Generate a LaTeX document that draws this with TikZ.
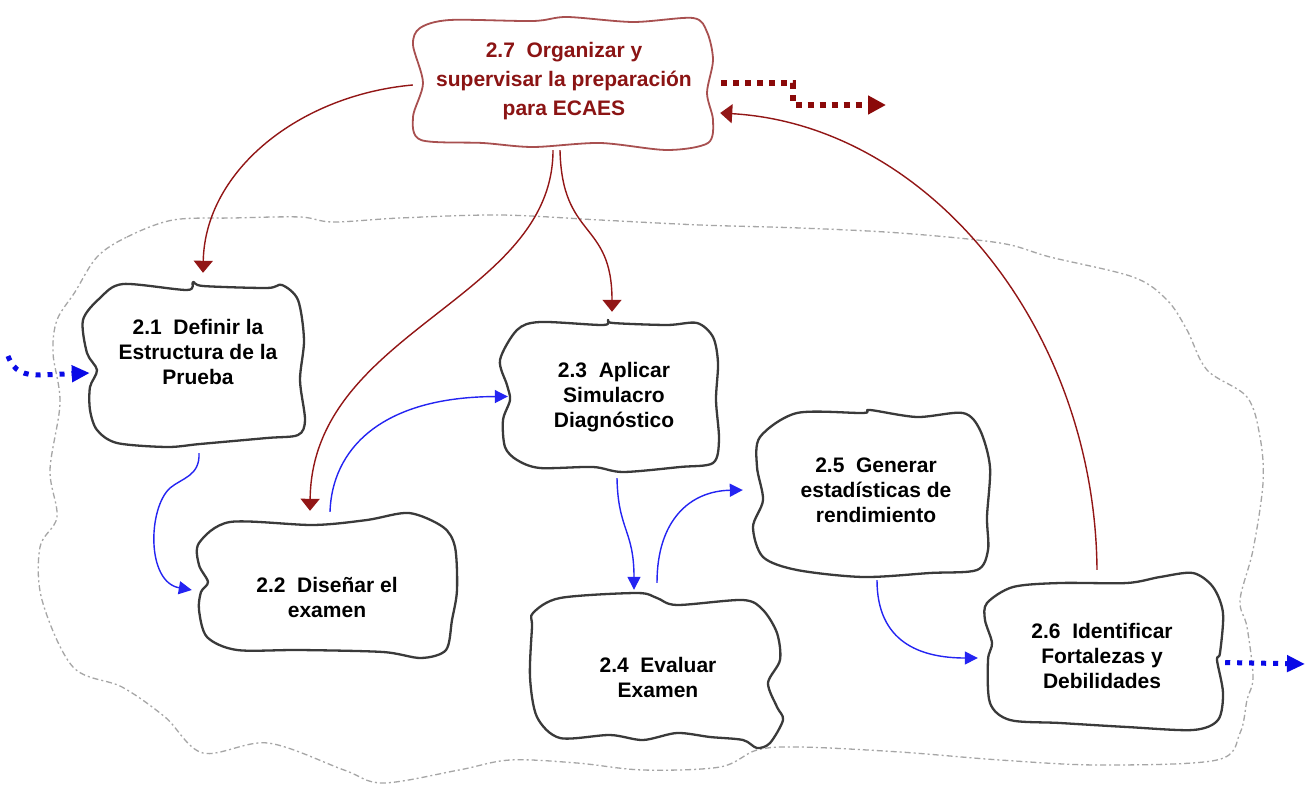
\documentclass[tikz,border=0pt]{standalone}
\usepackage{fontspec}
\setmainfont{Liberation Sans}
\usetikzlibrary{arrows.meta}

\definecolor{boxline}{HTML}{3A3A3A}
\definecolor{topline}{HTML}{A85050}
\definecolor{toptext}{HTML}{8B1414}
\definecolor{arrowred}{HTML}{921616}
\definecolor{arrowblue}{HTML}{2424F2}
\definecolor{dotblue}{HTML}{0A0AE6}
\definecolor{dotred}{HTML}{8B0A0A}
\definecolor{zone}{HTML}{A6A6A6}

\begin{document}
\begin{tikzpicture}[x=1pt,y=-1pt,
  frame/.style={draw=none, rectangle, inner sep=0pt},
  txt/.style={align=center, inner sep=0pt, text=black,
    font=\fontsize{21}{25}\selectfont\bfseries},
  blob/.style={draw=boxline, line width=2.3pt, line join=round},
  topblob/.style={draw=topline, line width=1.8pt, line join=round},
  zoneline/.style={draw=zone, line width=1.3pt,
    dash pattern=on 6pt off 3pt on 2pt off 3pt},
  redarrow/.style={draw=arrowred, line width=1.4pt,
    -{Triangle[width=19pt,length=12pt]}},
  bluearrow/.style={draw=arrowblue, line width=1.4pt,
    -{Triangle[width=13pt,length=13pt]}},
  bluedots/.style={draw=dotblue, line width=5pt, dash pattern=on 5pt off 7pt,
    -{Triangle[width=16pt,length=18pt]}},
  reddots/.style={draw=dotred, line width=6pt, dash pattern=on 6pt off 6pt,
    -{Triangle[width=18pt,length=18pt]}}
]
\useasboundingbox (0,0) rectangle (1314,786);
\fill[white] (0,0) rectangle (1314,786);

% process area boundary
\draw[zoneline] plot[smooth cycle, tension=0.55] coordinates {
  (97,257) (127,237) (173,220) (233,218) (300,217) (333,222) (400,218)
  (500,215) (600,220) (700,225) (800,228) (900,233) (1000,243) (1050,257)
  (1133,277) (1167,300) (1187,330) (1207,370) (1247,397) (1260,437)
  (1263,483) (1253,550) (1240,600) (1247,627) (1253,677) (1247,700)
  (1240,733) (1217,760) (1100,765) (1000,760) (900,752) (800,747)
  (757,750) (720,767) (643,770) (577,763) (510,760) (459,770) (383,783)
  (344,770) (268,743) (203,753) (165,717) (122,687) (73,667) (42,600)
  (40,547) (57,517) (50,470) (60,403) (53,353) (57,320) (75,292)};

% box outlines
\draw[topblob] plot[smooth cycle, tension=0.5] coordinates {
  (420,28) (450,20) (533,21) (567,17) (633,22) (693,18) (707,32) (713,60)
  (707,93) (713,120) (708,143) (667,150) (600,143) (533,147) (483,143)
  (421,140) (413,117) (423,83) (413,45)};
\draw[blob] plot[smooth cycle, tension=0.5] coordinates {
  (100,298) (123,284) (187,290) (193,282) (203,286) (267,288) (282,285)
  (298,300) (304,340) (300,380) (305,420) (298,435) (267,438) (200,444)
  (167,447) (117,443) (97,430) (90,410) (90,387) (97,370) (87,353) (83,320)};
\draw[blob] plot[smooth cycle, tension=0.5] coordinates {
  (199,543) (230,522) (313,525) (367,520) (409,513) (443,527) (455,547)
  (457,590) (452,620) (446,650) (421,658) (383,652) (300,650) (237,650)
  (207,637) (199,610) (201,592) (208,582) (199,565)};
\draw[blob] plot[smooth cycle, tension=0.5] coordinates {
  (517,330) (540,322) (603,325) (608,320) (613,323) (667,325) (697,323)
  (713,337) (718,363) (716,400) (719,440) (713,463) (680,467) (623,472)
  (593,467) (540,468) (517,460) (505,447) (503,420) (510,400) (507,385)
  (500,360)};
\draw[blob] plot[smooth cycle, tension=0.5] coordinates {
  (533,613) (560,598) (637,593) (657,598) (677,605) (743,600) (763,610)
  (777,633) (780,660) (768,683) (777,707) (783,720) (770,743) (757,748)
  (743,740) (710,737) (677,733) (643,740) (610,735) (560,738) (537,717)
  (530,677) (532,627)};
\draw[blob] plot[smooth cycle, tension=0.5] coordinates {
  (760,437) (797,413) (863,413) (870,410) (917,417) (963,413) (980,430)
  (990,467) (987,517) (988,550) (977,570) (930,573) (863,577) (797,570)
  (763,557) (753,527) (763,500) (757,467)};
\draw[blob] plot[smooth cycle, tension=0.5] coordinates {
  (987,603) (1013,587) (1060,583) (1127,583) (1160,577) (1193,573)
  (1213,587) (1223,613) (1220,653) (1217,660) (1223,693) (1218,720)
  (1193,730) (1127,727) (1060,723) (1010,720) (990,703) (988,660)
  (992,643) (985,620)};

% frames (connection areas of the boxes)
\node[frame, minimum width=302pt, minimum height=133pt] (b27) at (564,83.5) {};
\node[frame, minimum width=219pt, minimum height=164pt] (b21) at (194.5,365) {};
\node[frame, minimum width=260pt, minimum height=145pt] (b22) at (327,585.5) {};
\node[frame, minimum width=220pt, minimum height=151pt] (b23) at (610,396.5) {};
\node[frame, minimum width=253pt, minimum height=155pt] (b24) at (656.5,670.5) {};
\node[frame, minimum width=237pt, minimum height=167pt] (b25) at (871.5,493.5) {};
\node[frame, minimum width=238pt, minimum height=157pt] (b26) at (1104,651.5) {};

% box texts
\node[txt, text=toptext, font=\fontsize{21}{29}\selectfont\bfseries] (t27) at (564,81)
  {2.7~ Organizar y\\supervisar la preparación\\para ECAES};
\node[txt] (t21) at (198,352) {2.1~ Definir la\\Estructura de la\\Prueba};
\node[txt] (t22) at (327,597) {2.2~ Diseñar el\\examen};
\node[txt] (t23) at (614,397) {2.3~ Aplicar\\Simulacro\\Diagnóstico};
\node[txt] (t24) at (658,677) {2.4~ Evaluar\\Examen};
\node[txt] (t25) at (876,490) {2.5~ Generar\\estadísticas de\\rendimiento};
\node[txt] (t26) at (1102,656) {2.6~ Identificar\\Fortalezas y\\Debilidades};

% free ends of the external flows
\coordinate (in21) at (8,356);
\coordinate (out26) at (1305,664);
\coordinate (out27) at (886,105);

% supervision flows (dark red)
\draw[redarrow] ([yshift=-1.5pt]b27.west)
  .. controls (300,95) and (205,170) .. ([xshift=8.5pt,yshift=10pt]b21.north);
\draw[redarrow] ([xshift=-11pt]b27.south)
  .. controls (553,300) and (312,330) .. ([xshift=-17pt,yshift=2pt]b22.north);
\draw[redarrow] ([xshift=-4pt]b27.south)
  .. controls (562,240) and (612,220) .. ([xshift=2pt,yshift=9pt]b23.north);
\draw[redarrow] ([xshift=-7pt,yshift=3pt]b26.north)
  .. controls (1095,330) and (930,125) .. ([xshift=5pt,yshift=-29.5pt]b27.east);
\draw[reddots] ([xshift=6pt]b27.east) -- ++(72,0) |- (out27);

% process flows (blue)
\draw[bluearrow] ([xshift=4.5pt,yshift=-6pt]b21.south)
  .. controls (200,476) and (182,478) .. (170,488)
  .. controls (148,508) and (146,582) .. ([xshift=-5pt,yshift=-4.5pt]b22.west);
\draw[bluearrow] ([xshift=3pt,yshift=1pt]b22.north)
  .. controls (332,450) and (380,397) .. ([xshift=8pt]b23.west);
\draw[bluearrow] ([xshift=7pt,yshift=-6pt]b23.south)
  .. controls (618,530) and (634,530) .. ([xshift=-22.5pt,yshift=3pt]b24.north);
\draw[bluearrow] ([xshift=0.5pt,yshift=10pt]b24.north)
  .. controls (657,520) and (690,491) .. ([xshift=-10pt,yshift=3.5pt]b25.west);
\draw[bluearrow] ([xshift=5.5pt,yshift=-3pt]b25.south)
  .. controls (877,642) and (920,658) .. ([xshift=-7pt,yshift=-6.5pt]b26.west);
\draw[bluedots] (in21) .. controls (14,372) and (24,375) .. (40,375)
  -- ([xshift=5pt,yshift=-8pt]b21.west);
\draw[bluedots] ([xshift=2pt,yshift=-11pt]b26.east) -- (out26);
\end{tikzpicture}
\end{document}
